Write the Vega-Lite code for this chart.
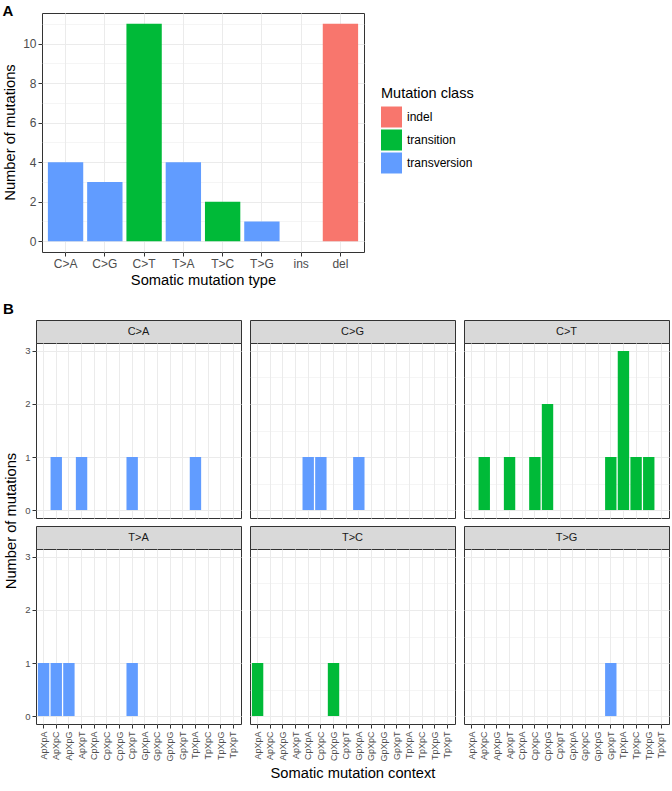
{
  "$schema": "https://vega.github.io/schema/vega-lite/v6.json",
  "padding": {"left": 2, "top": 3, "right": 0, "bottom": 0},
  "background": "white",
  "config": {
    "font": "Liberation Sans",
    "view": {"stroke": "#333333", "strokeWidth": 1},
    "axis": {"gridColor": "#EBEBEB", "gridWidth": 1, "domain": false, "tickColor": "#333333", "tickWidth": 1, "labelColor": "#4D4D4D", "titleColor": "#000000", "titleFontWeight": "normal"},
    "title": {"fontSize": 15, "fontWeight": "bold", "anchor": "start", "frame": "bounds", "color": "#000000"}
  },
  "datasets": {
    "types": [
      {"type": "C>A", "count": 4, "class": "transversion"},
      {"type": "C>G", "count": 3, "class": "transversion"},
      {"type": "C>T", "count": 11, "class": "transition"},
      {"type": "T>A", "count": 4, "class": "transversion"},
      {"type": "T>C", "count": 2, "class": "transition"},
      {"type": "T>G", "count": 1, "class": "transversion"},
      {"type": "ins", "count": 0, "class": "indel"},
      {"type": "del", "count": 11, "class": "indel"}
    ],
    "contexts": [
      {"type": "C>A", "context": "ApXpC", "count": 1, "class": "transversion"},
      {"type": "C>A", "context": "ApXpT", "count": 1, "class": "transversion"},
      {"type": "C>A", "context": "CpXpT", "count": 1, "class": "transversion"},
      {"type": "C>A", "context": "TpXpA", "count": 1, "class": "transversion"},
      {"type": "C>G", "context": "CpXpA", "count": 1, "class": "transversion"},
      {"type": "C>G", "context": "CpXpC", "count": 1, "class": "transversion"},
      {"type": "C>G", "context": "GpXpA", "count": 1, "class": "transversion"},
      {"type": "C>T", "context": "ApXpC", "count": 1, "class": "transition"},
      {"type": "C>T", "context": "ApXpT", "count": 1, "class": "transition"},
      {"type": "C>T", "context": "CpXpC", "count": 1, "class": "transition"},
      {"type": "C>T", "context": "CpXpG", "count": 2, "class": "transition"},
      {"type": "C>T", "context": "GpXpT", "count": 1, "class": "transition"},
      {"type": "C>T", "context": "TpXpA", "count": 3, "class": "transition"},
      {"type": "C>T", "context": "TpXpC", "count": 1, "class": "transition"},
      {"type": "C>T", "context": "TpXpG", "count": 1, "class": "transition"},
      {"type": "T>A", "context": "ApXpA", "count": 1, "class": "transversion"},
      {"type": "T>A", "context": "ApXpC", "count": 1, "class": "transversion"},
      {"type": "T>A", "context": "ApXpG", "count": 1, "class": "transversion"},
      {"type": "T>A", "context": "CpXpT", "count": 1, "class": "transversion"},
      {"type": "T>C", "context": "ApXpA", "count": 1, "class": "transition"},
      {"type": "T>C", "context": "CpXpG", "count": 1, "class": "transition"},
      {"type": "T>G", "context": "GpXpT", "count": 1, "class": "transversion"}
    ],
    "strips": [
      {"type": "C>A"}, {"type": "C>G"}, {"type": "C>T"},
      {"type": "T>A"}, {"type": "T>C"}, {"type": "T>G"}
    ],
    "ylab": [{"label": "Number of mutations"}]
  },
  "resolve": {"scale": {"color": "independent", "x": "independent", "y": "independent"}, "legend": {"color": "independent"}},
  "spacing": 13,
  "vconcat": [
    {
      "title": {"text": "A", "offset": -6},
      "spacing": 4,
      "resolve": {"scale": {"color": "independent", "x": "independent", "y": "independent"}, "legend": {"color": "independent"}},
      "hconcat": [
        {
          "data": {"name": "ylab"},
          "width": 15,
          "height": 239,
          "view": {"stroke": null},
          "mark": {"type": "text", "angle": 270, "fontSize": 14.7, "color": "#000000"},
          "encoding": {"text": {"field": "label", "type": "nominal"}}
        },
        {
          "data": {"name": "types"},
          "width": 322,
          "height": 239,
          "mark": {"type": "bar"},
          "encoding": {
            "x": {"field": "type", "type": "nominal", "sort": ["C>A", "C>G", "C>T", "T>A", "T>C", "T>G", "ins", "del"],
              "scale": {"paddingInner": 0.1, "paddingOuter": 0.15},
              "axis": {"title": "Somatic mutation type", "labelAngle": 0, "grid": true, "bandPosition": 0.5, "tickSize": 4, "labelPadding": 2, "labelFontSize": 12, "titleFontSize": 14.7, "titlePadding": 3}},
            "y": {"field": "count", "type": "quantitative", "scale": {"domain": [-0.55, 11.55], "nice": false, "zero": false},
              "axis": {"title": null, "values": [0, 1, 2, 3, 4, 5, 6, 7, 8, 9, 10, 11],
                "labelExpr": "datum.value % 2 == 0 ? datum.label : ''",
                "tickOpacity": {"condition": {"test": "datum.value % 2 == 1", "value": 0}, "value": 1},
                "gridWidth": {"condition": {"test": "datum.value % 2 == 1", "value": 0.5}, "value": 1},
                "tickSize": 4, "labelPadding": 2, "labelFontSize": 12}},
            "y2": {"datum": 0},
            "color": {"field": "class", "type": "nominal",
              "scale": {"domain": ["indel", "transition", "transversion"], "range": ["#F8766D", "#00BA38", "#619CFF"]},
              "legend": {"title": "Mutation class", "orient": "none", "legendX": 339, "legendY": 74,
                "titleFontSize": 14.5, "titleFontWeight": "normal", "titleColor": "#000000", "titlePadding": 5,
                "labelFontSize": 12, "labelColor": "#000000", "labelOffset": 5,
                "symbolType": "square", "symbolSize": 441, "symbolStrokeWidth": 0, "symbolOpacity": 1, "rowPadding": 2}}
          }
        }
      ]
    },
    {
      "title": {"text": "B", "offset": 3},
      "spacing": 3,
      "resolve": {"scale": {"color": "independent", "x": "independent", "y": "independent"}},
      "hconcat": [
        {
          "data": {"name": "ylab"},
          "width": 18,
          "height": 402,
          "view": {"stroke": null},
          "mark": {"type": "text", "angle": 270, "fontSize": 14.7, "color": "#000000"},
          "encoding": {"text": {"field": "label", "type": "nominal"}}
        },
        {
          "spacing": 6,
          "resolve": {"scale": {"color": "independent", "x": "independent", "y": "independent"}},
          "vconcat": [
            {
              "spacing": 7,
              "resolve": {"scale": {"color": "independent", "x": "independent", "y": "independent"}},
              "hconcat": [
                {
                  "bounds": "flush", "spacing": 0,
                  "resolve": {"scale": {"color": "independent", "x": "independent", "y": "independent"}},
                  "vconcat": [
                    {"data": {"name": "strips"}, "transform": [{"filter": "datum.type == 'C>A'"}], "width": 205, "height": 23,
                      "view": {"fill": "#D9D9D9", "stroke": "#333333"},
                      "mark": {"type": "text", "fontSize": 11, "color": "#1A1A1A"},
                      "encoding": {"text": {"field": "type", "type": "nominal"}}},
                    {"data": {"name": "contexts"}, "transform": [{"filter": "datum.type == 'C>A'"}], "width": 205, "height": 175,
                      "mark": {"type": "bar"},
                      "encoding": {
                        "x": {"field": "context", "type": "nominal", "scale": {"domain": ["ApXpA","ApXpC","ApXpG","ApXpT","CpXpA","CpXpC","CpXpG","CpXpT","GpXpA","GpXpC","GpXpG","GpXpT","TpXpA","TpXpC","TpXpG","TpXpT"], "paddingInner": 0.1, "paddingOuter": 0.15},
                          "axis": {"labels": false, "ticks": false, "title": null, "grid": true, "bandPosition": 0.5}},
                        "y": {"field": "count", "type": "quantitative", "scale": {"domain": [-0.15, 3.15], "nice": false, "zero": false},
                          "axis": {"title": null, "values": [0, 0.5, 1, 1.5, 2, 2.5, 3], "format": "d", "labelExpr": "datum.value % 1 == 0 ? datum.label : ''",
                            "tickOpacity": {"condition": {"test": "datum.value % 1 != 0", "value": 0}, "value": 1},
                            "gridWidth": {"condition": {"test": "datum.value % 1 != 0", "value": 0.5}, "value": 1},
                            "tickSize": 4, "labelPadding": 2, "labelFontSize": 9.5}},
                        "y2": {"datum": 0},
                        "color": {"field": "class", "type": "nominal", "scale": {"domain": ["indel", "transition", "transversion"], "range": ["#F8766D", "#00BA38", "#619CFF"]}, "legend": null}
                      }}
                  ]
                },
                {
                  "bounds": "flush", "spacing": 0,
                  "resolve": {"scale": {"color": "independent", "x": "independent", "y": "independent"}},
                  "vconcat": [
                    {"data": {"name": "strips"}, "transform": [{"filter": "datum.type == 'C>G'"}], "width": 205, "height": 23,
                      "view": {"fill": "#D9D9D9", "stroke": "#333333"},
                      "mark": {"type": "text", "fontSize": 11, "color": "#1A1A1A"},
                      "encoding": {"text": {"field": "type", "type": "nominal"}}},
                    {"data": {"name": "contexts"}, "transform": [{"filter": "datum.type == 'C>G'"}], "width": 205, "height": 175,
                      "mark": {"type": "bar"},
                      "encoding": {
                        "x": {"field": "context", "type": "nominal", "scale": {"domain": ["ApXpA","ApXpC","ApXpG","ApXpT","CpXpA","CpXpC","CpXpG","CpXpT","GpXpA","GpXpC","GpXpG","GpXpT","TpXpA","TpXpC","TpXpG","TpXpT"], "paddingInner": 0.1, "paddingOuter": 0.15},
                          "axis": {"labels": false, "ticks": false, "title": null, "grid": true, "bandPosition": 0.5}},
                        "y": {"field": "count", "type": "quantitative", "scale": {"domain": [-0.15, 3.15], "nice": false, "zero": false},
                          "axis": {"title": null, "labels": false, "ticks": false, "values": [0, 0.5, 1, 1.5, 2, 2.5, 3],
                            "gridWidth": {"condition": {"test": "datum.value % 1 != 0", "value": 0.5}, "value": 1}}},
                        "y2": {"datum": 0},
                        "color": {"field": "class", "type": "nominal", "scale": {"domain": ["indel", "transition", "transversion"], "range": ["#F8766D", "#00BA38", "#619CFF"]}, "legend": null}
                      }}
                  ]
                },
                {
                  "bounds": "flush", "spacing": 0,
                  "resolve": {"scale": {"color": "independent", "x": "independent", "y": "independent"}},
                  "vconcat": [
                    {"data": {"name": "strips"}, "transform": [{"filter": "datum.type == 'C>T'"}], "width": 205, "height": 23,
                      "view": {"fill": "#D9D9D9", "stroke": "#333333"},
                      "mark": {"type": "text", "fontSize": 11, "color": "#1A1A1A"},
                      "encoding": {"text": {"field": "type", "type": "nominal"}}},
                    {"data": {"name": "contexts"}, "transform": [{"filter": "datum.type == 'C>T'"}], "width": 205, "height": 175,
                      "mark": {"type": "bar"},
                      "encoding": {
                        "x": {"field": "context", "type": "nominal", "scale": {"domain": ["ApXpA","ApXpC","ApXpG","ApXpT","CpXpA","CpXpC","CpXpG","CpXpT","GpXpA","GpXpC","GpXpG","GpXpT","TpXpA","TpXpC","TpXpG","TpXpT"], "paddingInner": 0.1, "paddingOuter": 0.15},
                          "axis": {"labels": false, "ticks": false, "title": null, "grid": true, "bandPosition": 0.5}},
                        "y": {"field": "count", "type": "quantitative", "scale": {"domain": [-0.15, 3.15], "nice": false, "zero": false},
                          "axis": {"title": null, "labels": false, "ticks": false, "values": [0, 0.5, 1, 1.5, 2, 2.5, 3],
                            "gridWidth": {"condition": {"test": "datum.value % 1 != 0", "value": 0.5}, "value": 1}}},
                        "y2": {"datum": 0},
                        "color": {"field": "class", "type": "nominal", "scale": {"domain": ["indel", "transition", "transversion"], "range": ["#F8766D", "#00BA38", "#619CFF"]}, "legend": null}
                      }}
                  ]
                }
              ]
            },
            {
              "spacing": 7,
              "resolve": {"scale": {"color": "independent", "x": "independent", "y": "independent"}},
              "hconcat": [
                {
                  "bounds": "flush", "spacing": 0,
                  "resolve": {"scale": {"color": "independent", "x": "independent", "y": "independent"}},
                  "vconcat": [
                    {"data": {"name": "strips"}, "transform": [{"filter": "datum.type == 'T>A'"}], "width": 205, "height": 23,
                      "view": {"fill": "#D9D9D9", "stroke": "#333333"},
                      "mark": {"type": "text", "fontSize": 11, "color": "#1A1A1A"},
                      "encoding": {"text": {"field": "type", "type": "nominal"}}},
                    {"data": {"name": "contexts"}, "transform": [{"filter": "datum.type == 'T>A'"}], "width": 205, "height": 175,
                      "mark": {"type": "bar"},
                      "encoding": {
                        "x": {"field": "context", "type": "nominal", "scale": {"domain": ["ApXpA","ApXpC","ApXpG","ApXpT","CpXpA","CpXpC","CpXpG","CpXpT","GpXpA","GpXpC","GpXpG","GpXpT","TpXpA","TpXpC","TpXpG","TpXpT"], "paddingInner": 0.1, "paddingOuter": 0.15},
                          "axis": {"title": null, "labelAngle": -90, "labelFontSize": 9, "tickSize": 4, "labelPadding": 3, "grid": true, "bandPosition": 0.5}},
                        "y": {"field": "count", "type": "quantitative", "scale": {"domain": [-0.15, 3.15], "nice": false, "zero": false},
                          "axis": {"title": null, "values": [0, 0.5, 1, 1.5, 2, 2.5, 3], "format": "d", "labelExpr": "datum.value % 1 == 0 ? datum.label : ''",
                            "tickOpacity": {"condition": {"test": "datum.value % 1 != 0", "value": 0}, "value": 1},
                            "gridWidth": {"condition": {"test": "datum.value % 1 != 0", "value": 0.5}, "value": 1},
                            "tickSize": 4, "labelPadding": 2, "labelFontSize": 9.5}},
                        "y2": {"datum": 0},
                        "color": {"field": "class", "type": "nominal", "scale": {"domain": ["indel", "transition", "transversion"], "range": ["#F8766D", "#00BA38", "#619CFF"]}, "legend": null}
                      }}
                  ]
                },
                {
                  "bounds": "flush", "spacing": 0,
                  "resolve": {"scale": {"color": "independent", "x": "independent", "y": "independent"}},
                  "vconcat": [
                    {"data": {"name": "strips"}, "transform": [{"filter": "datum.type == 'T>C'"}], "width": 205, "height": 23,
                      "view": {"fill": "#D9D9D9", "stroke": "#333333"},
                      "mark": {"type": "text", "fontSize": 11, "color": "#1A1A1A"},
                      "encoding": {"text": {"field": "type", "type": "nominal"}}},
                    {"data": {"name": "contexts"}, "transform": [{"filter": "datum.type == 'T>C'"}], "width": 205, "height": 175,
                      "mark": {"type": "bar"},
                      "encoding": {
                        "x": {"field": "context", "type": "nominal", "scale": {"domain": ["ApXpA","ApXpC","ApXpG","ApXpT","CpXpA","CpXpC","CpXpG","CpXpT","GpXpA","GpXpC","GpXpG","GpXpT","TpXpA","TpXpC","TpXpG","TpXpT"], "paddingInner": 0.1, "paddingOuter": 0.15},
                          "axis": {"title": "Somatic mutation context", "titleFontSize": 14.7, "titlePadding": 4, "labelAngle": -90, "labelFontSize": 9, "tickSize": 4, "labelPadding": 3, "grid": true, "bandPosition": 0.5}},
                        "y": {"field": "count", "type": "quantitative", "scale": {"domain": [-0.15, 3.15], "nice": false, "zero": false},
                          "axis": {"title": null, "labels": false, "ticks": false, "values": [0, 0.5, 1, 1.5, 2, 2.5, 3],
                            "gridWidth": {"condition": {"test": "datum.value % 1 != 0", "value": 0.5}, "value": 1}}},
                        "y2": {"datum": 0},
                        "color": {"field": "class", "type": "nominal", "scale": {"domain": ["indel", "transition", "transversion"], "range": ["#F8766D", "#00BA38", "#619CFF"]}, "legend": null}
                      }}
                  ]
                },
                {
                  "bounds": "flush", "spacing": 0,
                  "resolve": {"scale": {"color": "independent", "x": "independent", "y": "independent"}},
                  "vconcat": [
                    {"data": {"name": "strips"}, "transform": [{"filter": "datum.type == 'T>G'"}], "width": 205, "height": 23,
                      "view": {"fill": "#D9D9D9", "stroke": "#333333"},
                      "mark": {"type": "text", "fontSize": 11, "color": "#1A1A1A"},
                      "encoding": {"text": {"field": "type", "type": "nominal"}}},
                    {"data": {"name": "contexts"}, "transform": [{"filter": "datum.type == 'T>G'"}], "width": 205, "height": 175,
                      "mark": {"type": "bar"},
                      "encoding": {
                        "x": {"field": "context", "type": "nominal", "scale": {"domain": ["ApXpA","ApXpC","ApXpG","ApXpT","CpXpA","CpXpC","CpXpG","CpXpT","GpXpA","GpXpC","GpXpG","GpXpT","TpXpA","TpXpC","TpXpG","TpXpT"], "paddingInner": 0.1, "paddingOuter": 0.15},
                          "axis": {"title": null, "labelAngle": -90, "labelFontSize": 9, "tickSize": 4, "labelPadding": 3, "grid": true, "bandPosition": 0.5}},
                        "y": {"field": "count", "type": "quantitative", "scale": {"domain": [-0.15, 3.15], "nice": false, "zero": false},
                          "axis": {"title": null, "labels": false, "ticks": false, "values": [0, 0.5, 1, 1.5, 2, 2.5, 3],
                            "gridWidth": {"condition": {"test": "datum.value % 1 != 0", "value": 0.5}, "value": 1}}},
                        "y2": {"datum": 0},
                        "color": {"field": "class", "type": "nominal", "scale": {"domain": ["indel", "transition", "transversion"], "range": ["#F8766D", "#00BA38", "#619CFF"]}, "legend": null}
                      }}
                  ]
                }
              ]
            }
          ]
        }
      ]
    }
  ]
}
